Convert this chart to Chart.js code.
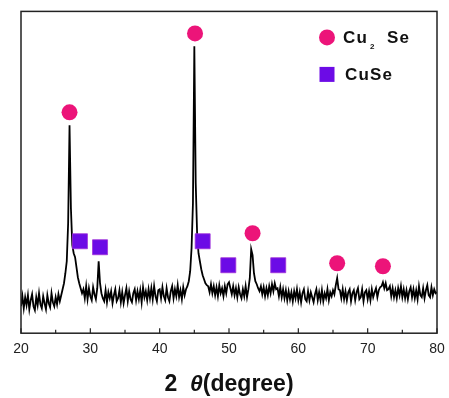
<!DOCTYPE html>
<html lang="en">
<head>
  <meta charset="UTF-8">
  <title>XRD pattern</title>
  <script src="https://cdn.jsdelivr.net/npm/chart.js"></script>
  <style>
    html, body { margin: 0; padding: 0; background: #ffffff; }
    #wrap { width: 449px; height: 398px; }
  </style>
</head>
<body>
<div id="wrap"><canvas id="xrdChart" width="449" height="398"></canvas></div>
<script>
  // 2theta grid: 20.0 .. 80.0, step 0.2 deg
  const thetaStart = 20;
  const thetaStep = 0.2;

  // intensity (a.u.), one row per degree
  const intensity = [
    27, 37, 25, 36, 28,
    38, 24, 33, 39, 27,
    23, 36, 28, 40, 29,
    25, 37, 30, 24, 38,
    30, 26, 40, 31, 27,
    36, 29, 39, 32, 38,
    44, 50, 60, 72, 110,
    208, 125, 88, 80, 76,
    66, 56, 50, 45, 40,
    44, 35, 47, 34, 45,
    37, 33, 46, 39, 34,
    45, 72, 50, 40, 35,
    32, 43, 31, 41, 35,
    42, 30, 38, 44, 32,
    35, 43, 31, 41, 30,
    38, 45, 32, 42, 34,
    31, 40, 44, 33, 42,
    34, 43, 31, 46, 36,
    42, 33, 44, 35, 45,
    34, 47, 37, 32, 43,
    44, 35, 46, 37, 33,
    45, 36, 32, 42, 47,
    35, 44, 37, 48, 36,
    43, 34, 46, 38, 44,
    47, 52, 62, 85, 130,
    287, 150, 100, 80, 72,
    64, 58, 54, 50, 48,
    47, 41, 49, 40, 47,
    38, 46, 37, 48, 40,
    45, 37, 47, 40, 49,
    51, 45, 39, 47, 38,
    45, 36, 46, 39, 35,
    44, 37, 47, 36, 44,
    55, 84, 78, 60, 52,
    49, 45, 42, 47, 39,
    46, 37, 45, 38, 47,
    40, 49, 42, 50, 44,
    45, 37, 46, 36, 44,
    35, 43, 33, 42, 34,
    41, 32, 42, 35, 44,
    33, 41, 31, 40, 44,
    34, 32, 42, 33, 41,
    36, 31, 39, 44, 33,
    41, 33, 43, 32, 40,
    35, 44, 33, 41, 37,
    43, 39, 48, 55, 44,
    43, 35, 44, 34, 42,
    33, 41, 44, 32, 40,
    43, 33, 41, 45, 34,
    36, 44, 32, 41, 43,
    34, 42, 33, 44, 36,
    41, 45, 36, 43, 46,
    47, 51, 45, 50, 43,
    44, 47, 37, 45, 36,
    43, 35, 45, 38, 47,
    36, 44, 35, 43, 34,
    42, 46, 36, 44, 35,
    43, 34, 47, 38, 36,
    45, 35, 43, 48, 38,
    36, 46, 38, 44, 40,
    41
  ];

  // phase markers
  const cu2seTheta = [27.0, 45.1, 53.4, 65.6, 72.2];
  const cu2seY     = [221, 300, 100, 70, 67];
  const cuseTheta  = [28.5, 31.4, 46.2, 49.9, 57.1];
  const cuseY      = [92, 86, 92, 68, 68];

  const xTicks = [20, 30, 40, 50, 60, 70, 80];
  const xMinorStep = 5;

  const pattern = intensity.map((v, i) => ({ x: +(thetaStart + i * thetaStep).toFixed(1), y: v }));
  const pts = (xs, ys) => xs.map((x, i) => ({ x: x, y: ys[i] }));

  const PINK = '#ec1479';
  const PURPLE = '#6c0be6';
  const FONT = '"Liberation Sans", Arial, sans-serif';

  const framePlugin = {
    id: 'frame',
    afterDraw(chart) {
      const { ctx, chartArea: a, scales } = chart;
      ctx.save();
      // box
      ctx.strokeStyle = '#222';
      ctx.lineWidth = 1.5;
      ctx.strokeRect(a.left, a.top, a.right - a.left, a.bottom - a.top);
      // inward ticks
      ctx.lineWidth = 1.2;
      for (let t = scales.x.min; t <= scales.x.max; t += xMinorStep) {
        const px = scales.x.getPixelForValue(t);
        const len = (t % 10 === 0) ? 5 : 3.5;
        ctx.beginPath();
        ctx.moveTo(px, a.bottom);
        ctx.lineTo(px, a.bottom - len);
        ctx.stroke();
      }
      // legend
      const lx = a.right - 110;
      ctx.fillStyle = PINK;
      ctx.beginPath();
      ctx.arc(lx, a.top + 26, 8, 0, Math.PI * 2);
      ctx.fill();
      ctx.fillStyle = PURPLE;
      ctx.fillRect(lx - 7.5, a.top + 55.5, 15, 15);
      ctx.fillStyle = '#111';
      ctx.textBaseline = 'alphabetic';
      ctx.letterSpacing = '1.2px';
      ctx.font = 'bold 17px ' + FONT;
      ctx.fillText('Cu', lx + 16, a.top + 32);
      ctx.font = 'bold 8px ' + FONT;
      ctx.fillText('2', lx + 43, a.top + 38);
      ctx.font = 'bold 17px ' + FONT;
      ctx.fillText('Se', lx + 60, a.top + 32);
      ctx.fillText('CuSe', lx + 18, a.top + 69);
      ctx.letterSpacing = '0px';
      // axis title: 2 θ(degree)
      const parts = [
        { t: '2  ', f: 'bold 23px ' + FONT },
        { t: 'θ', f: 'italic bold 23px ' + FONT },
        { t: '(degree)', f: 'bold 23px ' + FONT }
      ];
      let w = 0;
      parts.forEach(p => { ctx.font = p.f; w += ctx.measureText(p.t).width; });
      let x = (a.left + a.right) / 2 - w / 2;
      ctx.fillStyle = '#111';
      parts.forEach(p => {
        ctx.font = p.f;
        ctx.fillText(p.t, x, 391);
        x += ctx.measureText(p.t).width;
      });
      ctx.restore();
    }
  };

  new Chart(document.getElementById('xrdChart'), {
    type: 'line',
    data: {
      datasets: [
        {
          label: 'Cu2Se',
          data: pts(cu2seTheta, cu2seY),
          showLine: false,
          pointStyle: 'circle',
          pointRadius: 8,
          pointBackgroundColor: PINK,
          pointBorderWidth: 0,
          order: 1
        },
        {
          label: 'CuSe',
          data: pts(cuseTheta, cuseY),
          showLine: false,
          pointStyle: 'rect',
          pointRadius: 10.6,
          pointBackgroundColor: PURPLE,
          pointBorderColor: '#a030d8',
          pointBorderWidth: 0.8,
          order: 1
        },
        {
          label: 'XRD',
          data: pattern,
          borderColor: '#000',
          borderWidth: 1.8,
          pointRadius: 0,
          tension: 0,
          order: 2
        }
      ]
    },
    options: {
      responsive: false,
      animation: false,
      layout: { padding: { left: 21, right: 12, top: 10, bottom: 32 } },
      plugins: { legend: { display: false }, tooltip: { enabled: false } },
      scales: {
        x: {
          type: 'linear',
          min: 20,
          max: 80,
          afterBuildTicks: s => { s.ticks = xTicks.map(v => ({ value: v })); },
          afterFit: s => { s.paddingLeft = 0; s.paddingRight = 0; },
          grid: { display: false, drawTicks: false },
          border: { display: false },
          ticks: {
            padding: 8,
            color: '#222',
            font: { family: FONT, size: 14 }
          }
        },
        y: {
          display: false,
          min: 0,
          max: 322
        }
      }
    },
    plugins: [framePlugin]
  });
</script>
</body>
</html>
